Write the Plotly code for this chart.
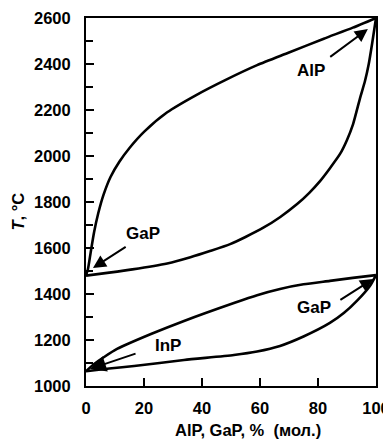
import plotly.graph_objects as go

# AlP–GaP system (upper)
alp_liq_x = [0, 0.7, 1.6, 2.8, 4.2, 6, 8.5, 11.5, 15, 20, 28, 38, 48, 59, 70, 82, 92, 100]
alp_liq_t = [1480, 1510, 1580, 1670, 1750, 1830, 1910, 1975, 2035, 2105, 2190, 2265, 2330, 2395, 2450, 2510, 2558, 2600]
alp_sol_x = [0, 8, 16, 28, 36, 43, 49.7, 55, 61, 67, 72.8, 77, 80.7, 84, 87.6, 90, 92.1, 94.5, 96.2, 97.5, 98.8, 100]
alp_sol_t = [1480, 1493, 1507, 1533, 1560, 1588, 1617, 1648, 1687, 1735, 1791, 1840, 1891, 1945, 2009, 2070, 2139, 2252, 2326, 2400, 2500, 2600]

# InP–GaP system (lower)
gap_liq_x = [0, 2.8, 10.7, 22.4, 33.8, 51, 59, 66.9, 75, 84.1, 92, 100]
gap_liq_t = [1064, 1096, 1161, 1226, 1283, 1361, 1395, 1422, 1442, 1457, 1470, 1482]
gap_sol_x = [0, 8, 16.6, 33.8, 51, 59, 66.9, 75, 84.1, 89, 93.4, 97.9, 100]
gap_sol_t = [1064, 1076, 1087, 1113, 1135, 1150, 1174, 1215, 1274, 1318, 1370, 1435, 1482]

x_ticks = [0, 20, 40, 60, 80, 100]
y_ticks = [1000, 1200, 1400, 1600, 1800, 2000, 2200, 2400, 2600]

# labels: (text, text_x, text_y, tail_x, tail_y, head_x, head_y, arrowsize)
labels = [
    ("AlP", 77.5, 2370, 83.7, 2426, 97.2, 2552, 1.3),
    ("GaP", 19.7, 1661, 14.2, 1609, 2.4, 1513, 1.3),
    ("InP", 28.4, 1174, 17.6, 1143, 1.4, 1074, 1.6),
    ("GaP", 78.5, 1343, 87.2, 1370, 99.0, 1465, 1.3),
]

fig = go.Figure()
for xs, ts in [(alp_liq_x, alp_liq_t), (alp_sol_x, alp_sol_t),
               (gap_liq_x, gap_liq_t), (gap_sol_x, gap_sol_t)]:
    fig.add_trace(go.Scatter(x=xs, y=ts, mode="lines",
                             line=dict(color="black", width=2.6, shape="spline", smoothing=0.6),
                             showlegend=False, hoverinfo="skip", cliponaxis=False))

font_lbl = dict(family="Liberation Sans, Arial", size=17, color="black")
for txt, tx, ty, ax_, ay_, hx, hy, asz in labels:
    fig.add_annotation(x=tx, y=ty, text="<b>%s</b>" % txt, showarrow=False, font=font_lbl,
                       xref="x", yref="y")
    fig.add_annotation(x=hx, y=hy, ax=ax_, ay=ay_, axref="x", ayref="y", xref="x", yref="y",
                       text="", showarrow=True, arrowhead=2, arrowsize=asz, arrowwidth=2,
                       arrowcolor="black", standoff=0)

tickfont = dict(family="Liberation Sans, Arial", size=16.5, color="black")

# axis titles placed as annotations (page body adds an 8px offset)
fig.add_annotation(x=0.559, y=-0.12, xref="paper", yref="paper", showarrow=False,
                   text="<b>AlP, GaP, %  (мол.)</b>", font=tickfont, xanchor="center", yanchor="middle")
fig.add_annotation(x=-0.236, y=0.473, xref="paper", yref="paper", showarrow=False, textangle=-90,
                   text="<b><i>T</i>, °C</b>", font=tickfont, xanchor="center", yanchor="middle")

fig.update_layout(
    width=383, height=436,
    margin=dict(l=78, r=15, t=10, b=58, autoexpand=False),
    paper_bgcolor="white", plot_bgcolor="white",
    xaxis=dict(range=[0, 100], tickvals=x_ticks, ticktext=["<b>%d</b>" % v for v in x_ticks],
               ticks="inside", ticklen=8, tickwidth=2, tickcolor="black",
               showline=True, linewidth=2, linecolor="black", mirror=True, automargin=False,
               showgrid=False, zeroline=False, tickfont=tickfont, ticklabelstandoff=6),
    yaxis=dict(range=[1000, 2600], tickvals=y_ticks, ticktext=["<b>%d</b>" % v for v in y_ticks],
               ticks="inside", ticklen=8, tickwidth=2, tickcolor="black",
               minor=dict(dtick=100, tick0=1000, ticks="inside", ticklen=7, tickwidth=2, tickcolor="black", showgrid=False),
               showline=True, linewidth=2, linecolor="black", mirror=True, automargin=False,
               showgrid=False, zeroline=False, tickfont=tickfont, ticklabelstandoff=10),
)

fig.write_html("out.html")
